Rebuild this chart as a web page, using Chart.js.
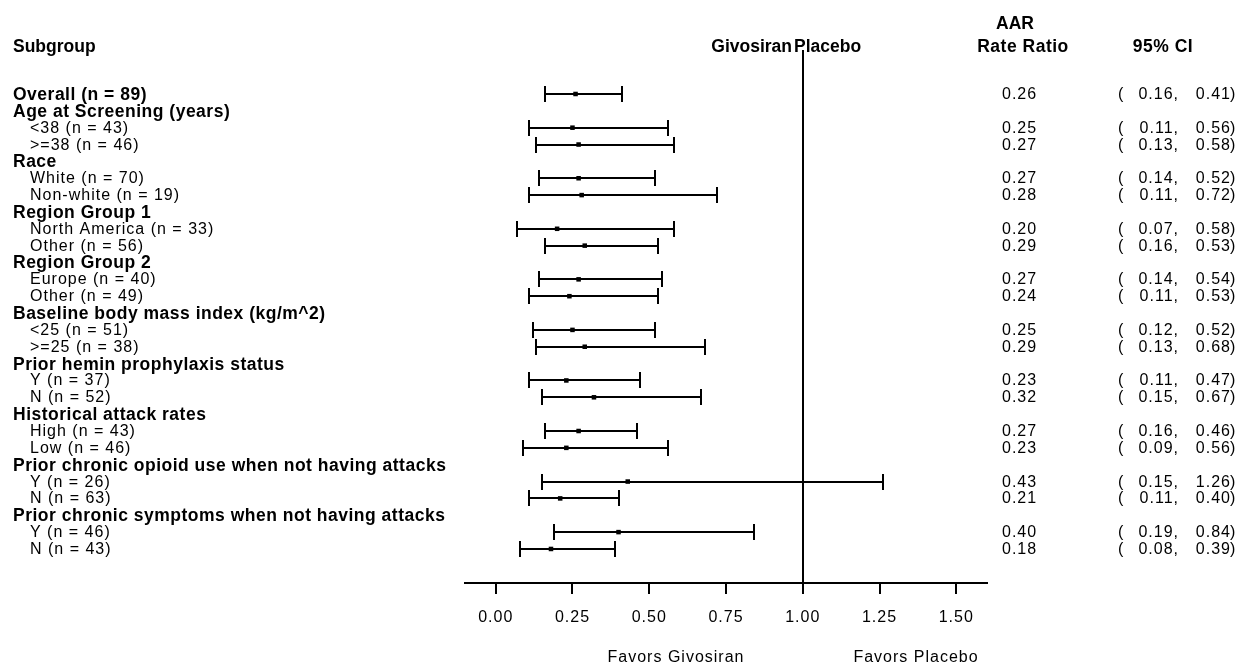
<!DOCTYPE html>
<html>
<head>
<meta charset="utf-8">
<script src="https://cdn.jsdelivr.net/npm/chart.js@4/dist/chart.umd.min.js"></script>
<style>
  html, body { margin: 0; padding: 0; background: #fff; }
  canvas { display: block; }
</style>
</head>
<body>
<canvas id="forest" width="1238" height="668"></canvas>
<script>
// subgroup rows, top to bottom; null ratio = category title row
const rowLabels = [
  'Overall (n = 89)',
  'Age at Screening (years)', '<38 (n = 43)', '>=38 (n = 46)',
  'Race', 'White (n = 70)', 'Non-white (n = 19)',
  'Region Group 1', 'North America (n = 33)', 'Other (n = 56)',
  'Region Group 2', 'Europe (n = 40)', 'Other (n = 49)',
  'Baseline body mass index (kg/m^2)', '<25 (n = 51)', '>=25 (n = 38)',
  'Prior hemin prophylaxis status', 'Y (n = 37)', 'N (n = 52)',
  'Historical attack rates', 'High (n = 43)', 'Low (n = 46)',
  'Prior chronic opioid use when not having attacks', 'Y (n = 26)', 'N (n = 63)',
  'Prior chronic symptoms when not having attacks', 'Y (n = 46)', 'N (n = 43)'
];
const rateRatio = [0.26, null, 0.25, 0.27, null, 0.27, 0.28, null, 0.20, 0.29, null, 0.27, 0.24,
                   null, 0.25, 0.29, null, 0.23, 0.32, null, 0.27, 0.23, null, 0.43, 0.21, null, 0.40, 0.18];
const ciLower   = [0.16, null, 0.11, 0.13, null, 0.14, 0.11, null, 0.07, 0.16, null, 0.14, 0.11,
                   null, 0.12, 0.13, null, 0.11, 0.15, null, 0.16, 0.09, null, 0.15, 0.11, null, 0.19, 0.08];
const ciUpper   = [0.41, null, 0.56, 0.58, null, 0.52, 0.72, null, 0.58, 0.53, null, 0.54, 0.53,
                   null, 0.52, 0.68, null, 0.47, 0.67, null, 0.46, 0.56, null, 1.26, 0.40, null, 0.84, 0.39];
const xTicks = [0, 0.25, 0.5, 0.75, 1, 1.25, 1.5];
const armLabels = ['Givosiran', 'Placebo'];
const favorsLabels = ['Favors Givosiran', 'Favors Placebo'];

const FONT = '"Liberation Sans", Arial, sans-serif';
const REG = '16px ' + FONT;
const BOLD = 'bold 17.5px ' + FONT;

const isTitle = i => i === 0 || rateRatio[i] === null;

function text(ctx, str, x, y, align, font, spacing) {
  ctx.font = font;
  ctx.letterSpacing = spacing || '0px';
  ctx.textAlign = align;
  ctx.textBaseline = 'middle';
  ctx.fillText(str, x, y);
}

const forestPlugin = {
  id: 'forest',
  beforeDatasetsDraw(chart) {
    const { ctx, chartArea } = chart;
    const { x, y } = chart.scales;
    ctx.save();
    ctx.strokeStyle = '#000';
    ctx.lineWidth = 2;

    // line of no effect
    const xr = Math.round(x.getPixelForValue(1));
    ctx.beginPath();
    ctx.moveTo(xr, chartArea.top);
    ctx.lineTo(xr, chartArea.bottom);
    ctx.stroke();

    // confidence interval whiskers
    rateRatio.forEach((v, i) => {
      if (v === null) return;
      const py = Math.round(y.getPixelForValue(i));
      const x0 = Math.round(x.getPixelForValue(ciLower[i]));
      const x1 = Math.round(x.getPixelForValue(ciUpper[i]));
      ctx.beginPath();
      ctx.moveTo(x0, py); ctx.lineTo(x1, py);
      ctx.moveTo(x0, py - 8); ctx.lineTo(x0, py + 8);
      ctx.moveTo(x1, py - 8); ctx.lineTo(x1, py + 8);
      ctx.stroke();
    });
    ctx.restore();
  },
  afterDraw(chart) {
    const { ctx, chartArea } = chart;
    const { x, y } = chart.scales;
    ctx.save();
    ctx.fillStyle = '#000';

    // column headings
    text(ctx, 'Subgroup', 13, 47, 'left', BOLD);
    text(ctx, armLabels[0], 792, 47, 'right', BOLD);
    text(ctx, armLabels[1], 794, 47, 'left', BOLD);
    text(ctx, 'AAR', 1015, 24, 'center', BOLD);
    text(ctx, 'Rate Ratio', 1023, 47, 'center', BOLD, '0.5px');
    text(ctx, '95% CI', 1163, 47, 'center', BOLD, '0.5px');

    rowLabels.forEach((lab, i) => {
      const py = Math.round(y.getPixelForValue(i)) + 1;
      if (isTitle(i)) text(ctx, lab, 13, py, 'left', BOLD, '0.5px');
      else text(ctx, lab, 30, py, 'left', REG, '1px');
      if (rateRatio[i] === null) return;
      text(ctx, rateRatio[i].toFixed(2), 1002, py, 'left', REG, '1px');
      text(ctx, '(', 1118, py, 'left', REG);
      text(ctx, ciLower[i].toFixed(2) + ',', 1179, py, 'right', REG, '1px');
      text(ctx, ciUpper[i].toFixed(2), 1231, py, 'right', REG, '1px');
      text(ctx, ')', 1230, py, 'left', REG);
    });

    // axis tick labels (drawn here to get the wider letter spacing)
    xTicks.forEach(v => {
      text(ctx, v.toFixed(2), x.getPixelForValue(v), chartArea.bottom + 35, 'center', REG, '1px');
    });

    // direction labels under the axis
    text(ctx, favorsLabels[0], 676, 658, 'center', REG, '1px');
    text(ctx, favorsLabels[1], 916, 658, 'center', REG, '1px');
    ctx.restore();
  }
};

const points = [];
rateRatio.forEach((v, i) => { if (v !== null) points.push({ x: v, y: i }); });

new Chart(document.getElementById('forest'), {
  type: 'scatter',
  data: {
    datasets: [{
      data: points,
      pointStyle: 'rect',
      pointRadius: 3.2,
      pointBackgroundColor: '#000',
      pointBorderWidth: 0
    }]
  },
  options: {
    responsive: false,
    devicePixelRatio: 1,
    animation: false,
    events: [],
    layout: { padding: { left: 465, right: 251, top: 50, bottom: 0 } },
    plugins: { legend: { display: false }, tooltip: { enabled: false } },
    scales: {
      x: {
        type: 'linear',
        min: -0.1,
        max: 1.6,
        afterBuildTicks: s => { s.ticks = xTicks.map(v => ({ value: v })); },
        afterFit: s => { s.height = 85; },
        border: { color: '#000', width: 2 },
        grid: { drawOnChartArea: false, tickLength: 11, color: '#000', lineWidth: 2 },
        ticks: { display: false }
      },
      y: {
        type: 'linear',
        display: false,
        reverse: true,
        min: -2.61,
        max: 29.02
      }
    }
  },
  plugins: [forestPlugin]
});
</script>
</body>
</html>
